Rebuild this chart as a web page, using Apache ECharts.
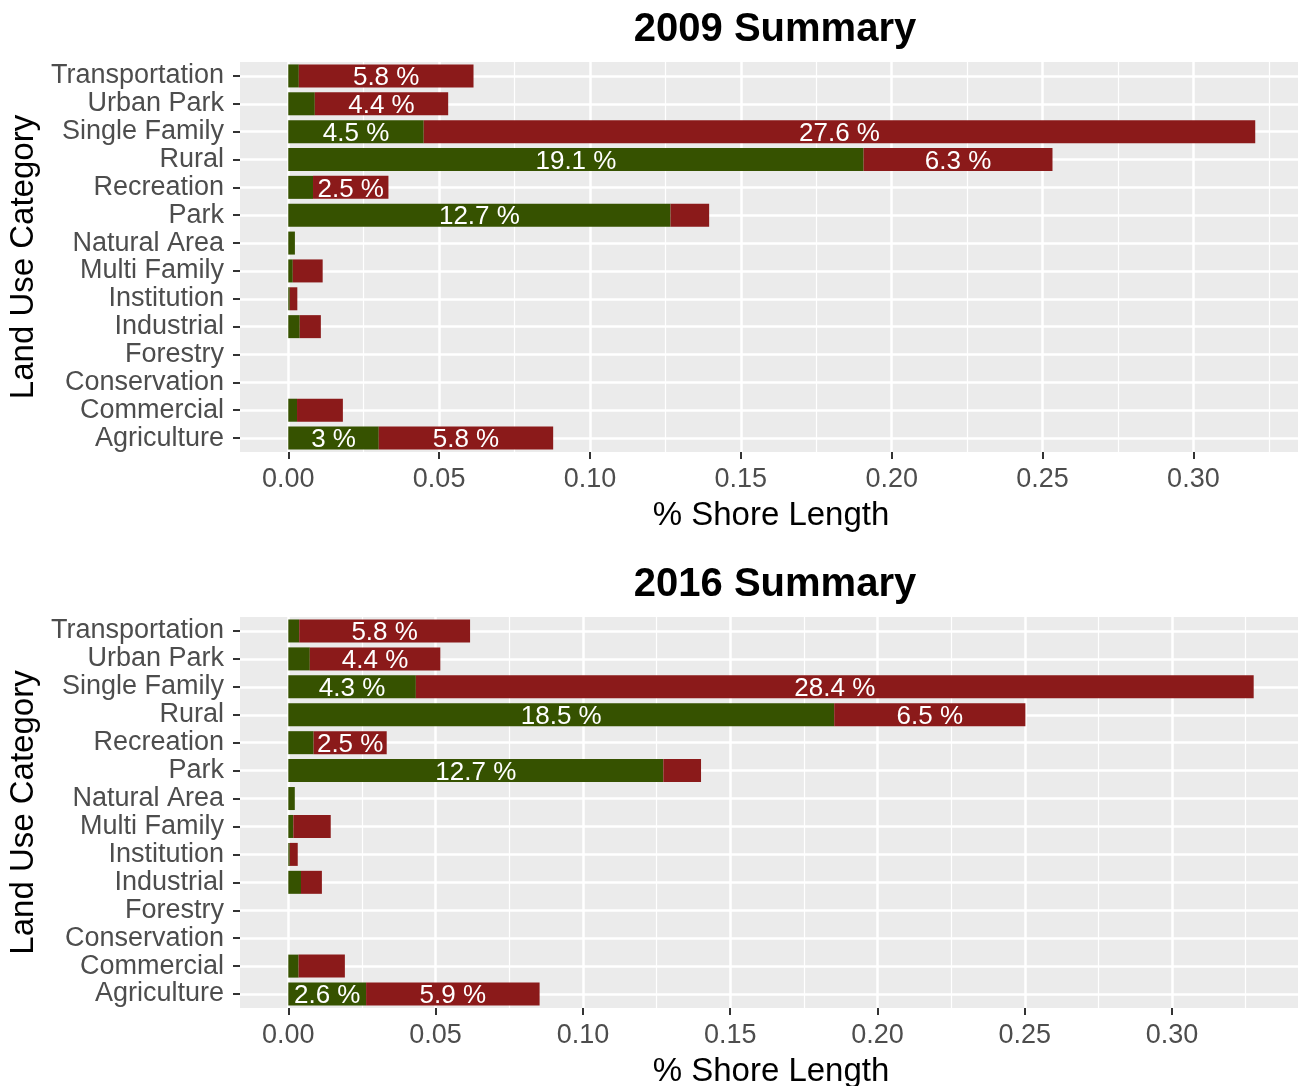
<!DOCTYPE html>
<html>
<head>
<meta charset="utf-8">
<script src="https://cdn.jsdelivr.net/npm/echarts@6/dist/echarts.min.js"></script>
<style>
  html, body { margin: 0; padding: 0; background: #fff; }
  #chart { width: 1298px; height: 1086px; }
</style>
</head>
<body>
<div id="chart"></div>
<script>
// categories, bottom to top (ggplot puts the first level at the bottom)
const categories = ['Agriculture', 'Commercial', 'Conservation', 'Forestry', 'Industrial', 'Institution',
  'Multi Family', 'Natural Area', 'Park', 'Recreation', 'Rural', 'Single Family', 'Urban Park', 'Transportation']

// share of shore length, green = first segment, red = second segment
const green2009 = [0.030, 0.0029, 0, 0, 0.0038, 0.0005, 0.0015, 0.0022, 0.1267, 0.0082, 0.1907, 0.0449, 0.0088, 0.0035]
const red2009 = [0.0578, 0.0152, 0, 0, 0.0070, 0.0025, 0.0099, 0, 0.0128, 0.0250, 0.0626, 0.2756, 0.0442, 0.0579]
const green2016 = [0.0264, 0.0035, 0, 0, 0.0043, 0.0005, 0.0017, 0.0022, 0.1273, 0.0086, 0.1853, 0.0433, 0.0073, 0.0037]
const red2016 = [0.0589, 0.0157, 0, 0, 0.0071, 0.0027, 0.0127, 0, 0.0128, 0.0248, 0.0649, 0.2844, 0.0443, 0.0580]

const majorTicks = [0, 0.05, 0.10, 0.15, 0.20, 0.25, 0.30]
const minorTicks = [0.025, 0.075, 0.125, 0.175, 0.225, 0.275, 0.325]

const GREEN = '#365200'
const RED = '#8B1A1A'
const FONT = '"Liberation Sans", Arial, sans-serif'

const chart = echarts.init(document.getElementById('chart'))

function pct(v) {
  return Math.round(v * 1000) / 10 + ' %'
}

// one ggplot-like panel
function panel(i, top, height, min, max) {
  const grid = {
    left: 240, top: top, width: 1062, height: height,
    outerBoundsMode: 'none', containLabel: false,
    show: true, backgroundColor: '#EBEBEB', borderWidth: 0
  }
  const xMajor = {
    type: 'value', gridIndex: i, min: min, max: max, position: 'bottom',
    axisLine: { show: false, onZero: false },
    axisTick: { show: true, length: 7, customValues: majorTicks, lineStyle: { color: '#333', width: 2 } },
    axisLabel: {
      customValues: majorTicks, margin: 14, color: '#4D4D4D', fontSize: 27, fontFamily: FONT,
      formatter: v => v.toFixed(2)
    },
    splitLine: { show: true, lineStyle: { color: '#fff', width: 2.5 } },
    name: '% Shore Length', nameLocation: 'middle', nameGap: 47,
    nameTextStyle: { color: '#000', fontSize: 33, fontFamily: FONT }
  }
  const xMinor = {
    type: 'value', gridIndex: i, min: min, max: max, position: 'bottom',
    axisLine: { show: false, onZero: false },
    axisTick: { show: false, customValues: minorTicks },
    axisLabel: { show: false, customValues: minorTicks },
    splitLine: { show: true, lineStyle: { color: '#fff', width: 1.2 } }
  }
  const y = {
    type: 'category', gridIndex: i, data: categories, position: 'left',
    axisLine: { show: false, onZero: false },
    axisTick: { show: true, alignWithLabel: true, interval: 0, length: 7, lineStyle: { color: '#333', width: 2 } },
    axisLabel: { interval: 0, margin: 16, color: '#4D4D4D', fontSize: 27, fontFamily: FONT },
    splitLine: { show: false },
    name: 'Land Use Category', nameLocation: 'middle', nameGap: 192,
    nameTextStyle: { color: '#000', fontSize: 33, fontFamily: FONT }
  }
  // hidden value axis that only draws the horizontal grid lines through the bar centres
  const rowLines = categories.map((c, k) => k + 0.5)
  const yLines = {
    type: 'value', gridIndex: i, min: 0, max: categories.length, position: 'right',
    axisLine: { show: false, onZero: false },
    axisTick: { show: false, customValues: rowLines },
    axisLabel: { show: false, customValues: rowLines },
    splitLine: { show: true, lineStyle: { color: '#fff', width: 2.5 } }
  }
  return { grid, xAxis: [xMajor, xMinor], yAxis: [y, yLines] }
}

function barSeries(name, data, color, i, stack) {
  return {
    name: name, type: 'bar', stack: stack, data: data,
    xAxisIndex: i * 2, yAxisIndex: i * 2,
    barWidth: 23,
    itemStyle: { color: color },
    label: {
      show: true, position: 'inside', offset: [0, 2],
      color: '#fff', fontSize: 26, fontFamily: FONT,
      formatter: p => (p.value >= 0.02 ? pct(p.value) : '')
    },
    emphasis: { disabled: true }
  }
}

const p1 = panel(0, 62, 390, -0.016, 0.336)
const p2 = panel(1, 617, 391, -0.0164, 0.3441)

chart.setOption({
  animation: false,
  textStyle: { fontFamily: FONT },
  title: [
    { text: '2009 Summary', left: 770, top: 5, textAlign: 'center',
      textStyle: { fontSize: 40, fontWeight: 'bold', color: '#000', fontFamily: FONT } },
    { text: '2016 Summary', left: 770, top: 560, textAlign: 'center',
      textStyle: { fontSize: 40, fontWeight: 'bold', color: '#000', fontFamily: FONT } }
  ],
  grid: [p1.grid, p2.grid],
  xAxis: p1.xAxis.concat(p2.xAxis),
  yAxis: p1.yAxis.concat(p2.yAxis),
  series: [
    barSeries('green', green2009, GREEN, 0, 'a'),
    barSeries('red', red2009, RED, 0, 'a'),
    barSeries('green', green2016, GREEN, 1, 'b'),
    barSeries('red', red2016, RED, 1, 'b')
  ]
})
</script>
</body>
</html>
